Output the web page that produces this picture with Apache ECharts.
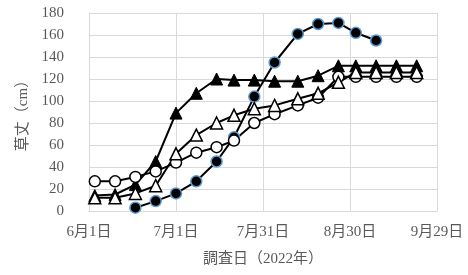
<!DOCTYPE html>
<html>
<head>
<meta charset="utf-8">
<script src="https://cdn.jsdelivr.net/npm/echarts@6/dist/echarts.min.js"></script>
<style>
  html, body { margin: 0; padding: 0; background: #fff; }
  #chart { width: 468px; height: 275px; }
</style>
</head>
<body>
<div id="chart"></div>
<script>
// survey dates (2022)
const dates = ['6/3', '6/10', '6/17', '6/24', '7/1', '7/8', '7/15', '7/21', '7/28',
  '8/4', '8/12', '8/19', '8/26', '9/1', '9/8', '9/15', '9/22'];

// plant height (cm)
const filledTriangle = [14, 15, 24, 45, 89, 107, 120, 119, 119, 118, 118, 123, 132, 132, 132, 132, 132];
const filledCircle = [null, null, 3, 9, 16, 27, 45, 67, 104, 135, 161, 170, 171, 162, 155, null, null];
const openCircle = [27, 27, 31, 36, 44, 53, 58, 64, 80, 88, 96, 103, 122, 122, 122, 122, 122];
const openTriangle = [12, 12, 16, 23, 52, 69, 80, 87, 93, 96, 102, 107, 117, 126, 126, 126, 126];

const font = "'Liberation Serif', 'Noto Sans CJK JP', serif";
const textColor = '#595959';
const gridColor = '#d9d9d9';

function dayOffset(md) {
  const [m, d] = md.split('/').map(Number);
  return (Date.UTC(2022, m - 1, d) - Date.UTC(2022, 5, 1)) / 86400000;
}

function toPairs(values) {
  const out = [];
  values.forEach((v, i) => {
    if (v != null) out.push([dayOffset(dates[i]), v]);
  });
  return out;
}

function dayLabel(v) {
  const dt = new Date(Date.UTC(2022, 5, 1) + v * 86400000);
  return (dt.getUTCMonth() + 1) + '月' + dt.getUTCDate() + '日';
}

const chart = echarts.init(document.getElementById('chart'));

chart.setOption({
  backgroundColor: '#fff',
  animation: false,
  grid: { left: 89, right: 31, top: 13, bottom: 64 },
  xAxis: {
    type: 'value',
    min: 0,
    max: 120,
    interval: 30,
    name: '調査日（2022年）',
    nameLocation: 'middle',
    nameGap: 41,
    nameTextStyle: { fontFamily: font, fontSize: 15, color: textColor },
    axisLine: { lineStyle: { color: gridColor } },
    axisTick: { show: false },
    axisLabel: { fontFamily: font, fontSize: 15, color: textColor, margin: 14, formatter: dayLabel },
    splitLine: { lineStyle: { color: gridColor } }
  },
  yAxis: {
    type: 'value',
    min: 0,
    max: 180,
    interval: 20,
    name: '草丈（cm）',
    nameLocation: 'middle',
    nameRotate: 90,
    nameGap: 58,
    nameTextStyle: { fontFamily: font, fontSize: 15, color: textColor },
    axisLine: { show: true, lineStyle: { color: gridColor } },
    axisTick: { show: false },
    axisLabel: { fontFamily: font, fontSize: 15, color: textColor, margin: 25 },
    splitLine: { lineStyle: { color: gridColor } }
  },
  series: [
    {
      type: 'line',
      data: toPairs(filledTriangle),
      symbol: 'triangle',
      symbolSize: 12,
      lineStyle: { color: '#000', width: 2 },
      itemStyle: { color: '#000', borderColor: '#000', borderWidth: 1 }
    },
    {
      type: 'line',
      data: toPairs(filledCircle),
      symbol: 'circle',
      symbolSize: 11,
      lineStyle: { color: '#000', width: 2 },
      itemStyle: { color: '#000', borderColor: '#5b9bd5', borderWidth: 1.5 }
    },
    {
      type: 'line',
      data: toPairs(openCircle),
      symbol: 'circle',
      symbolSize: 11,
      lineStyle: { color: '#000', width: 2 },
      itemStyle: { color: '#fff', borderColor: '#000', borderWidth: 1.5 }
    },
    {
      type: 'line',
      data: toPairs(openTriangle),
      symbol: 'triangle',
      symbolSize: 12,
      lineStyle: { color: '#000', width: 2 },
      itemStyle: { color: '#fff', borderColor: '#000', borderWidth: 1.5 }
    }
  ]
});
</script>
</body>
</html>
